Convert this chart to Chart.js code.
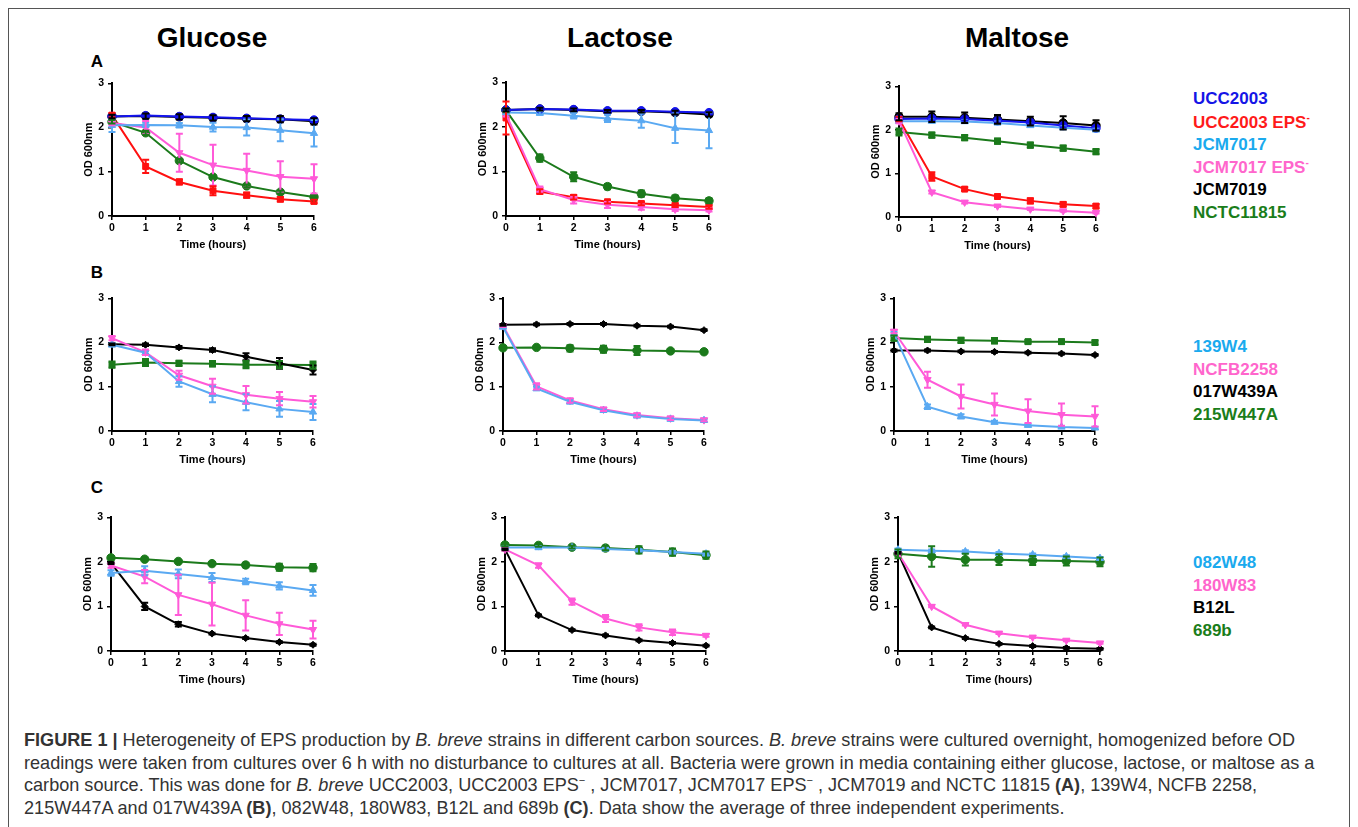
<!DOCTYPE html>
<html>
<head>
<meta charset="utf-8">
<script src="https://cdn.jsdelivr.net/npm/chart.js@4.4.1/dist/chart.umd.min.js"></script>
<style>
  html, body { margin:0; padding:0; width:1358px; height:827px; overflow:hidden; background:#fff; font-family:"Liberation Sans", Arial, sans-serif; }
  .frame { position:absolute; left:8px; top:8px; width:1342px; height:900px; border:1.5px solid #555; box-sizing:border-box; }
  .panel { position:absolute; }
  .title { position:absolute; font-weight:bold; font-size:28px; color:#000; transform:translate(-50%,-50%); white-space:nowrap; }
  .letter { position:absolute; font-weight:bold; font-size:17px; color:#000; transform:translate(-50%,-50%); }
  .leg { position:absolute; font-weight:bold; font-size:17px; white-space:nowrap; transform:translateY(-50%); }
  .leg sup { font-size:10px; vertical-align:7px; }
  .caption { position:absolute; left:24px; top:729px; font-size:18.1px; line-height:22.7px; color:#333; white-space:nowrap; }
  .caption sup { font-size:11px; vertical-align:7px; line-height:0; }
</style>
</head>
<body>
<div class="frame"></div>

<div class="title" style="left:212px; top:38px;">Glucose</div>
<div class="title" style="left:620px; top:38px;">Lactose</div>
<div class="title" style="left:1017px; top:38px;">Maltose</div>
<div class="letter" style="left:97px; top:62px;">A</div>
<div class="letter" style="left:97px; top:273px;">B</div>
<div class="letter" style="left:97px; top:488px;">C</div>

<div id="legends"></div>

<canvas id="c_gA" class="panel"></canvas>
<canvas id="c_lA" class="panel"></canvas>
<canvas id="c_mA" class="panel"></canvas>
<canvas id="c_gB" class="panel"></canvas>
<canvas id="c_lB" class="panel"></canvas>
<canvas id="c_mB" class="panel"></canvas>
<canvas id="c_gC" class="panel"></canvas>
<canvas id="c_lC" class="panel"></canvas>
<canvas id="c_mC" class="panel"></canvas>

<div class="caption">
<b>FIGURE 1 |</b> Heterogeneity of EPS production by <i>B. breve</i> strains in different carbon sources. <i>B. breve</i> strains were cultured overnight, homogenized before OD<br>
readings were taken from cultures over 6 h with no disturbance to cultures at all. Bacteria were grown in media containing either glucose, lactose, or maltose as a<br>
carbon source. This was done for <i>B. breve</i> UCC2003, UCC2003 EPS<sup>−</sup> , JCM7017, JCM7017 EPS<sup>−</sup> , JCM7019 and NCTC 11815 <b>(A)</b>, 139W4, NCFB 2258,<br>
215W447A and 017W439A <b>(B)</b>, 082W48, 180W83, B12L and 689b <b>(C)</b>. Data show the average of three independent experiments.
</div>

<script>
// ---------- shared axis data ----------
const hours = [0, 1, 2, 3, 4, 5, 6];
const xTicks = [0, 1, 2, 3, 4, 5, 6];
const yTicks = [0, 1, 2, 3];
const carbonSources = ["Glucose", "Lactose", "Maltose"];

// ---------- strain names ----------
const strainsA = ["UCC2003", "UCC2003 EPS-", "JCM7017", "JCM7017 EPS-", "JCM7019", "NCTC11815"];
const strainsB = ["139W4", "NCFB2258", "017W439A", "215W447A"];
const strainsC = ["082W48", "180W83", "B12L", "689b"];

// ---------- Row A, Glucose ----------
const gA_UCC2003 = [2.25, 2.27, 2.25, 2.23, 2.21, 2.19, 2.17];
const gA_UCC2003_err = [0.03, 0.03, 0.03, 0.03, 0.03, 0.03, 0.03];
const gA_UCC2003EPS = [2.28, 1.12, 0.77, 0.57, 0.47, 0.38, 0.33];
const gA_UCC2003EPS_err = [0.05, 0.15, 0.06, 0.10, 0.06, 0.05, 0.04];
const gA_JCM7017 = [2.05, 2.06, 2.05, 2.01, 2.00, 1.94, 1.87];
const gA_JCM7017_err = [0.15, 0.05, 0.05, 0.10, 0.18, 0.25, 0.30];
const gA_JCM7017EPS = [2.10, 2.00, 1.43, 1.15, 1.03, 0.89, 0.84];
const gA_JCM7017EPS_err = [0.05, 0.15, 0.43, 0.46, 0.38, 0.35, 0.33];
const gA_JCM7019 = [2.25, 2.26, 2.24, 2.22, 2.20, 2.19, 2.14];
const gA_JCM7019_err = [0.04, 0.06, 0.06, 0.06, 0.06, 0.07, 0.07];
const gA_NCTC11815 = [2.13, 1.88, 1.25, 0.88, 0.68, 0.54, 0.43];
const gA_NCTC11815_err = [0.04, 0.05, 0.04, 0.04, 0.03, 0.03, 0.03];

// ---------- Row A, Lactose ----------
const lA_UCC2003 = [2.38, 2.40, 2.39, 2.36, 2.36, 2.34, 2.32];
const lA_UCC2003_err = [0.03, 0.03, 0.03, 0.03, 0.03, 0.03, 0.03];
const lA_UCC2003EPS = [2.20, 0.55, 0.42, 0.32, 0.28, 0.24, 0.20];
const lA_UCC2003EPS_err = [0.37, 0.05, 0.05, 0.04, 0.04, 0.04, 0.04];
const lA_JCM7017 = [2.32, 2.31, 2.25, 2.19, 2.14, 1.97, 1.92];
const lA_JCM7017_err = [0.03, 0.04, 0.06, 0.08, 0.16, 0.33, 0.40];
const lA_JCM7017EPS = [2.28, 0.60, 0.36, 0.25, 0.20, 0.15, 0.13];
const lA_JCM7017EPS_err = [0.05, 0.06, 0.08, 0.07, 0.06, 0.04, 0.03];
const lA_JCM7019 = [2.38, 2.40, 2.38, 2.35, 2.35, 2.32, 2.28];
const lA_JCM7019_err = [0.03, 0.03, 0.03, 0.03, 0.03, 0.04, 0.05];
const lA_NCTC11815 = [2.37, 1.30, 0.88, 0.66, 0.50, 0.40, 0.34];
const lA_NCTC11815_err = [0.04, 0.08, 0.10, 0.06, 0.07, 0.06, 0.06];

// ---------- Row A, Maltose ----------
const mA_UCC2003 = [2.25, 2.26, 2.25, 2.21, 2.17, 2.10, 2.04];
const mA_UCC2003_err = [0.04, 0.04, 0.04, 0.04, 0.04, 0.04, 0.04];
const mA_UCC2003EPS = [2.25, 0.93, 0.64, 0.47, 0.37, 0.29, 0.25];
const mA_UCC2003EPS_err = [0.05, 0.10, 0.04, 0.04, 0.06, 0.05, 0.05];
const mA_JCM7017 = [2.20, 2.20, 2.19, 2.16, 2.10, 2.05, 2.00];
const mA_JCM7017_err = [0.03, 0.03, 0.03, 0.03, 0.03, 0.03, 0.03];
const mA_JCM7017EPS = [2.20, 0.57, 0.34, 0.25, 0.18, 0.14, 0.10];
const mA_JCM7017EPS_err = [0.05, 0.03, 0.03, 0.02, 0.02, 0.02, 0.02];
const mA_JCM7019 = [2.30, 2.30, 2.28, 2.24, 2.20, 2.16, 2.10];
const mA_JCM7019_err = [0.08, 0.12, 0.12, 0.10, 0.10, 0.15, 0.12];
const mA_NCTC11815 = [1.95, 1.88, 1.82, 1.74, 1.65, 1.58, 1.50];
const mA_NCTC11815_err = [0.08, 0.06, 0.06, 0.06, 0.06, 0.06, 0.06];

// ---------- Row B, Glucose ----------
const gB_139W4 = [1.95, 1.77, 1.12, 0.83, 0.65, 0.50, 0.43];
const gB_139W4_err = [0.04, 0.04, 0.12, 0.18, 0.18, 0.18, 0.18];
const gB_NCFB2258 = [2.10, 1.78, 1.26, 1.01, 0.82, 0.73, 0.66];
const gB_NCFB2258_err = [0.05, 0.06, 0.10, 0.17, 0.20, 0.15, 0.13];
const gB_017W439A = [1.96, 1.95, 1.89, 1.83, 1.68, 1.53, 1.38];
const gB_017W439A_err = [0.02, 0.03, 0.03, 0.04, 0.08, 0.12, 0.10];
const gB_215W447A = [1.50, 1.55, 1.53, 1.52, 1.50, 1.50, 1.49];
const gB_215W447A_err = [0.07, 0.08, 0.06, 0.06, 0.08, 0.08, 0.08];

// ---------- Row B, Lactose ----------
const lB_139W4 = [2.35, 0.96, 0.66, 0.47, 0.34, 0.27, 0.24];
const lB_139W4_err = [0.02, 0.04, 0.04, 0.04, 0.03, 0.03, 0.03];
const lB_NCFB2258 = [2.38, 1.01, 0.69, 0.49, 0.36, 0.29, 0.25];
const lB_NCFB2258_err = [0.03, 0.07, 0.05, 0.04, 0.04, 0.04, 0.03];
const lB_017W439A = [2.40, 2.41, 2.42, 2.42, 2.38, 2.36, 2.28];
const lB_017W439A_err = [0.02, 0.02, 0.02, 0.02, 0.02, 0.02, 0.02];
const lB_215W447A = [1.88, 1.89, 1.87, 1.85, 1.82, 1.81, 1.79];
const lB_215W447A_err = [0.03, 0.03, 0.07, 0.08, 0.10, 0.03, 0.03];

// ---------- Row B, Maltose ----------
const mB_139W4 = [2.20, 0.55, 0.33, 0.20, 0.13, 0.09, 0.07];
const mB_139W4_err = [0.04, 0.05, 0.05, 0.03, 0.03, 0.02, 0.02];
const mB_NCFB2258 = [2.25, 1.16, 0.78, 0.60, 0.45, 0.37, 0.33];
const mB_NCFB2258_err = [0.04, 0.18, 0.27, 0.25, 0.27, 0.25, 0.23];
const mB_017W439A = [1.82, 1.82, 1.80, 1.79, 1.77, 1.75, 1.72];
const mB_017W439A_err = [0.02, 0.02, 0.02, 0.02, 0.02, 0.02, 0.02];
const mB_215W447A = [2.10, 2.07, 2.05, 2.04, 2.02, 2.02, 2.00];
const mB_215W447A_err = [0.06, 0.06, 0.06, 0.06, 0.04, 0.05, 0.05];

// ---------- Row C, Glucose ----------
const gC_082W48 = [1.75, 1.80, 1.73, 1.65, 1.56, 1.46, 1.36];
const gC_082W48_err = [0.06, 0.10, 0.10, 0.10, 0.06, 0.08, 0.12];
const gC_180W83 = [1.92, 1.67, 1.26, 1.05, 0.80, 0.61, 0.48];
const gC_180W83_err = [0.05, 0.15, 0.45, 0.48, 0.34, 0.25, 0.20];
const gC_B12L = [1.97, 1.00, 0.60, 0.39, 0.29, 0.20, 0.14];
const gC_B12L_err = [0.02, 0.08, 0.05, 0.02, 0.02, 0.02, 0.02];
const gC_689b = [2.09, 2.06, 2.01, 1.96, 1.93, 1.88, 1.87];
const gC_689b_err = [0.04, 0.02, 0.02, 0.02, 0.05, 0.08, 0.08];

// ---------- Row C, Lactose ----------
const lC_082W48 = [2.32, 2.32, 2.32, 2.29, 2.26, 2.22, 2.18];
const lC_082W48_err = [0.03, 0.03, 0.03, 0.03, 0.03, 0.03, 0.03];
const lC_180W83 = [2.28, 1.92, 1.11, 0.73, 0.53, 0.42, 0.35];
const lC_180W83_err = [0.03, 0.05, 0.07, 0.08, 0.07, 0.06, 0.03];
const lC_B12L = [2.28, 0.80, 0.47, 0.35, 0.24, 0.18, 0.12];
const lC_B12L_err = [0.02, 0.02, 0.02, 0.02, 0.02, 0.02, 0.02];
const lC_689b = [2.38, 2.37, 2.33, 2.31, 2.27, 2.22, 2.15];
const lC_689b_err = [0.03, 0.03, 0.03, 0.05, 0.08, 0.08, 0.08];

// ---------- Row C, Maltose ----------
const mC_082W48 = [2.27, 2.25, 2.23, 2.19, 2.16, 2.12, 2.08];
const mC_082W48_err = [0.03, 0.03, 0.03, 0.03, 0.03, 0.03, 0.03];
const mC_180W83 = [2.20, 1.00, 0.59, 0.40, 0.31, 0.24, 0.18];
const mC_180W83_err = [0.02, 0.02, 0.02, 0.02, 0.02, 0.02, 0.02];
const mC_B12L = [2.20, 0.53, 0.29, 0.16, 0.11, 0.07, 0.05];
const mC_B12L_err = [0.02, 0.02, 0.02, 0.02, 0.02, 0.02, 0.02];
const mC_689b = [2.18, 2.12, 2.05, 2.05, 2.03, 2.02, 2.00];
const mC_689b_err = [0.10, 0.23, 0.13, 0.12, 0.10, 0.10, 0.10];

// ---------- styles ----------
const COL = {
  blue: "#1414ee", red: "#ff1010", lblue: "#5aa9f2", pink: "#ff5ad8", black: "#000000", green: "#1b7a1b"
};
const LEGCOL = {
  blue: "#1515e6", red: "#ff1a1a", lblue: "#1aaaee", pink: "#ff66cc", black: "#000000", green: "#1a7d1a"
};
const FONT = '"Liberation Sans", Arial, sans-serif';

function ds(label, data, err, color, shape, rot) {
  return {
    label, data: hours.map((h, i) => ({ x: h, y: data[i] })), errors: err,
    borderColor: color, backgroundColor: color, borderWidth: 2,
    pointStyle: shape, pointRotation: rot || 0, pointRadius: shape === 'rectRot' ? 3.5 : 4.2,
    pointBorderWidth: 1, pointHoverRadius: 4, tension: 0, clip: false
  };
}

const errorBarPlugin = {
  id: 'errbars',
  afterDatasetsDraw(chart) {
    const ctx = chart.ctx, xs = chart.scales.x, ys = chart.scales.y;
    chart.data.datasets.forEach(d => {
      if (!d.errors) return;
      ctx.save();
      ctx.strokeStyle = d.borderColor; ctx.lineWidth = 2;
      d.data.forEach((p, i) => {
        const e = d.errors[i]; if (!e) return;
        const px = xs.getPixelForValue(p.x);
        const y1 = ys.getPixelForValue(p.y + e), y2 = ys.getPixelForValue(Math.max(0, p.y - e));
        ctx.beginPath();
        ctx.moveTo(px, y1); ctx.lineTo(px, y2);
        ctx.moveTo(px - 3.5, y1); ctx.lineTo(px + 3.5, y1);
        ctx.moveTo(px - 3.5, y2); ctx.lineTo(px + 3.5, y2);
        ctx.stroke();
      });
      ctx.restore();
    });
  }
};

// plot-area boxes [left, top, right, bottom] (layout only)
function makePanel(id, box, datasets) {
  const padL = 34, padT = 10, padR = 12, padB = 36;
  const cv = document.getElementById(id);
  const w = box[2] - box[0] + padL + padR, h = box[3] - box[1] + padT + padB;
  cv.width = w; cv.height = h;
  cv.style.left = (box[0] - padL) + 'px'; cv.style.top = (box[1] - padT) + 'px';
  cv.style.width = w + 'px'; cv.style.height = h + 'px';
  new Chart(cv, {
    type: 'line',
    data: { datasets },
    plugins: [errorBarPlugin],
    options: {
      responsive: false, animation: false, devicePixelRatio: 1,
      layout: { padding: { top: padT, right: padR, left: 0, bottom: 0 } },
      plugins: { legend: { display: false }, tooltip: { enabled: false } },
      scales: {
        x: {
          type: 'linear', min: 0, max: 6,
          afterBuildTicks: s => { s.ticks = xTicks.map(v => ({ value: v })); },
          afterFit: s => { s.height = padB; },
          ticks: { color: '#000', font: { family: FONT, size: 10.5, weight: 'bold' }, padding: 2, maxRotation: 0 },
          grid: { drawOnChartArea: false, drawTicks: true, tickLength: 4, color: '#000', lineWidth: 1.5 },
          border: { color: '#000', width: 2 },
          title: { display: true, text: 'Time (hours)', color: '#000', font: { family: FONT, size: 11, weight: 'bold' }, padding: { top: 1, bottom: 0 } }
        },
        y: {
          min: 0, max: 3,
          afterBuildTicks: s => { s.ticks = yTicks.map(v => ({ value: v })); },
          afterFit: s => { s.width = padL; },
          ticks: { color: '#000', font: { family: FONT, size: 10.5, weight: 'bold' }, padding: 4 },
          grid: { drawOnChartArea: false, drawTicks: true, tickLength: 4, color: '#000', lineWidth: 1.5 },
          border: { color: '#000', width: 2 },
          title: { display: true, text: 'OD 600nm', color: '#000', font: { family: FONT, size: 11, weight: 'bold' }, padding: { top: 4, bottom: 0 } }
        }
      }
    }
  });
}

// Row A
makePanel('c_gA', [112, 83, 314, 216], [
  ds(strainsA[0], gA_UCC2003, gA_UCC2003_err, COL.blue, 'circle'),
  ds(strainsA[2], gA_JCM7017, gA_JCM7017_err, COL.lblue, 'triangle'),
  ds(strainsA[3], gA_JCM7017EPS, gA_JCM7017EPS_err, COL.pink, 'triangle', 180),
  ds(strainsA[5], gA_NCTC11815, gA_NCTC11815_err, COL.green, 'circle'),
  ds(strainsA[1], gA_UCC2003EPS, gA_UCC2003EPS_err, COL.red, 'rect'),
  ds(strainsA[4], gA_JCM7019, gA_JCM7019_err, COL.black, 'circle')
]);
makePanel('c_lA', [506, 82, 709, 216], [
  ds(strainsA[0], lA_UCC2003, lA_UCC2003_err, COL.blue, 'circle'),
  ds(strainsA[2], lA_JCM7017, lA_JCM7017_err, COL.lblue, 'triangle'),
  ds(strainsA[3], lA_JCM7017EPS, lA_JCM7017EPS_err, COL.pink, 'triangle', 180),
  ds(strainsA[5], lA_NCTC11815, lA_NCTC11815_err, COL.green, 'circle'),
  ds(strainsA[1], lA_UCC2003EPS, lA_UCC2003EPS_err, COL.red, 'rect'),
  ds(strainsA[4], lA_JCM7019, lA_JCM7019_err, COL.black, 'circle')
]);
makePanel('c_mA', [899, 86, 1096, 217], [
  ds(strainsA[2], mA_JCM7017, mA_JCM7017_err, COL.lblue, 'triangle'),
  ds(strainsA[0], mA_UCC2003, mA_UCC2003_err, COL.blue, 'circle'),
  ds(strainsA[3], mA_JCM7017EPS, mA_JCM7017EPS_err, COL.pink, 'triangle', 180),
  ds(strainsA[5], mA_NCTC11815, mA_NCTC11815_err, COL.green, 'rect'),
  ds(strainsA[1], mA_UCC2003EPS, mA_UCC2003EPS_err, COL.red, 'rect'),
  ds(strainsA[4], mA_JCM7019, mA_JCM7019_err, COL.black, 'circle')
]);

// Row B
makePanel('c_gB', [112, 298, 313, 431], [
  ds(strainsB[0], gB_139W4, gB_139W4_err, COL.lblue, 'triangle'),
  ds(strainsB[1], gB_NCFB2258, gB_NCFB2258_err, COL.pink, 'triangle', 180),
  ds(strainsB[2], gB_017W439A, gB_017W439A_err, COL.black, 'rectRot'),
  ds(strainsB[3], gB_215W447A, gB_215W447A_err, COL.green, 'rect')
]);
makePanel('c_lB', [503, 298, 704, 431], [
  ds(strainsB[0], lB_139W4, lB_139W4_err, COL.lblue, 'triangle'),
  ds(strainsB[1], lB_NCFB2258, lB_NCFB2258_err, COL.pink, 'triangle', 180),
  ds(strainsB[2], lB_017W439A, lB_017W439A_err, COL.black, 'rectRot'),
  ds(strainsB[3], lB_215W447A, lB_215W447A_err, COL.green, 'circle')
]);
makePanel('c_mB', [894, 298, 1095, 431], [
  ds(strainsB[0], mB_139W4, mB_139W4_err, COL.lblue, 'triangle'),
  ds(strainsB[1], mB_NCFB2258, mB_NCFB2258_err, COL.pink, 'triangle', 180),
  ds(strainsB[2], mB_017W439A, mB_017W439A_err, COL.black, 'rectRot'),
  ds(strainsB[3], mB_215W447A, mB_215W447A_err, COL.green, 'rect')
]);

// Row C
makePanel('c_gC', [111, 517, 313, 651], [
  ds(strainsC[0], gC_082W48, gC_082W48_err, COL.lblue, 'triangle'),
  ds(strainsC[1], gC_180W83, gC_180W83_err, COL.pink, 'triangle', 180),
  ds(strainsC[2], gC_B12L, gC_B12L_err, COL.black, 'rectRot'),
  ds(strainsC[3], gC_689b, gC_689b_err, COL.green, 'circle')
]);
makePanel('c_lC', [505, 517, 706, 651], [
  ds(strainsC[0], lC_082W48, lC_082W48_err, COL.lblue, 'triangle'),
  ds(strainsC[1], lC_180W83, lC_180W83_err, COL.pink, 'triangle', 180),
  ds(strainsC[2], lC_B12L, lC_B12L_err, COL.black, 'rectRot'),
  ds(strainsC[3], lC_689b, lC_689b_err, COL.green, 'circle')
]);
makePanel('c_mC', [898, 517, 1100, 651], [
  ds(strainsC[0], mC_082W48, mC_082W48_err, COL.lblue, 'triangle'),
  ds(strainsC[1], mC_180W83, mC_180W83_err, COL.pink, 'triangle', 180),
  ds(strainsC[2], mC_B12L, mC_B12L_err, COL.black, 'rectRot'),
  ds(strainsC[3], mC_689b, mC_689b_err, COL.green, 'circle')
]);

// ---------- legends (HTML text) ----------
const legendA = [[strainsA[0], LEGCOL.blue], [strainsA[1], LEGCOL.red], [strainsA[2], LEGCOL.lblue], [strainsA[3], LEGCOL.pink], [strainsA[4], LEGCOL.black], [strainsA[5], LEGCOL.green]];
const legendB = [[strainsB[0], LEGCOL.lblue], [strainsB[1], LEGCOL.pink], [strainsB[2], LEGCOL.black], [strainsB[3], LEGCOL.green]];
const legendC = [[strainsC[0], LEGCOL.lblue], [strainsC[1], LEGCOL.pink], [strainsC[2], LEGCOL.black], [strainsC[3], LEGCOL.green]];
function placeLegend(items, x, y0, dy) {
  const host = document.getElementById('legends');
  items.forEach(([name, color], i) => {
    const d = document.createElement('div');
    d.className = 'leg';
    d.style.left = x + 'px'; d.style.top = (y0 + i * dy) + 'px'; d.style.color = color;
    if (name.endsWith(' EPS-')) {
      d.appendChild(document.createTextNode(name.slice(0, -1)));
      const s = document.createElement('sup'); s.textContent = '-'; d.appendChild(s);
    } else d.textContent = name;
    host.appendChild(d);
  });
}
placeLegend(legendA, 1193, 99, 22.8);
placeLegend(legendB, 1193, 347, 22.5);
placeLegend(legendC, 1193, 563, 22.5);
</script>
</body>
</html>
